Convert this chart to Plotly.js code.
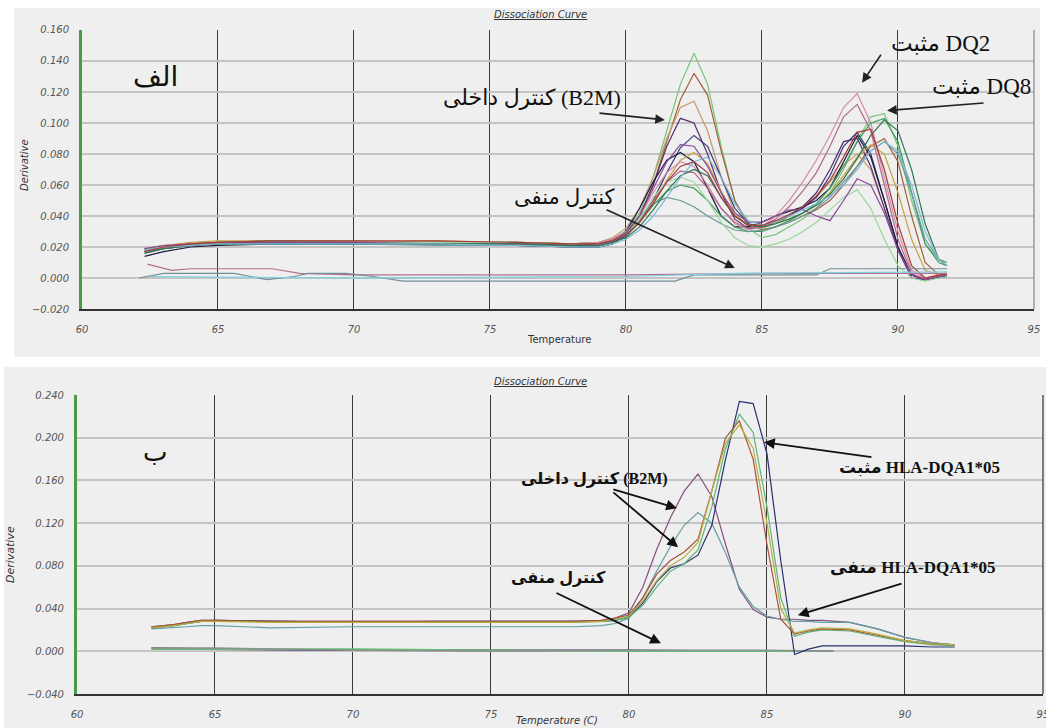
<!DOCTYPE html>
<html>
<head>
<meta charset="utf-8">
<script src="https://cdn.plot.ly/plotly-3.0.1.min.js"></script>
<style>html,body{margin:0;padding:0;background:#fff;}#chart{width:1046px;height:728px;}</style>
</head>
<body>
<div id="chart"></div>
<script>
// ---------- Panel A (الف) : temperature grid and melt-curve derivatives ----------
const tempA = [62.3,63,64,65,67,70,73,76,78,79,79.5,80,80.5,81,81.5,82,82.5,83,83.5,84,84.5,85,85.5,86,86.5,87,87.5,88,88.5,89,89.5,90,90.5,91,91.5,91.8];

const a01 = [0.018,0.020,0.022,0.022,0.023,0.023,0.022,0.022,0.022,0.023,0.025,0.030,0.042,0.065,0.095,0.125,0.145,0.125,0.085,0.050,0.032,0.026,0.028,0.033,0.038,0.045,0.055,0.070,0.088,0.104,0.106,0.085,0.050,0.022,0.012,0.010];
const a02 = [0.017,0.020,0.022,0.023,0.024,0.023,0.023,0.023,0.022,0.023,0.025,0.030,0.040,0.060,0.088,0.115,0.132,0.118,0.082,0.050,0.035,0.031,0.033,0.036,0.040,0.044,0.050,0.060,0.072,0.085,0.090,0.075,0.040,0.010,0.002,0.002];
const a03 = [0.019,0.021,0.022,0.023,0.024,0.023,0.024,0.023,0.022,0.023,0.026,0.032,0.045,0.065,0.090,0.110,0.114,0.095,0.065,0.042,0.033,0.032,0.035,0.040,0.045,0.052,0.062,0.073,0.080,0.070,0.045,0.018,0.002,0.000,0.002,0.003];
const a04 = [0.016,0.019,0.021,0.022,0.022,0.022,0.022,0.021,0.020,0.020,0.022,0.028,0.040,0.060,0.085,0.103,0.100,0.080,0.055,0.038,0.032,0.033,0.036,0.040,0.046,0.055,0.070,0.088,0.090,0.072,0.045,0.018,0.000,-0.001,0.001,0.002];
const a05 = [0.018,0.020,0.021,0.022,0.022,0.023,0.022,0.022,0.021,0.021,0.023,0.027,0.036,0.050,0.068,0.084,0.092,0.085,0.065,0.045,0.035,0.033,0.036,0.040,0.045,0.052,0.066,0.085,0.094,0.080,0.050,0.020,0.002,-0.001,0.001,0.001];
const a06 = [0.014,0.017,0.020,0.021,0.022,0.022,0.022,0.021,0.020,0.020,0.022,0.030,0.045,0.062,0.076,0.081,0.075,0.058,0.040,0.033,0.033,0.036,0.040,0.043,0.046,0.050,0.058,0.075,0.092,0.078,0.050,0.020,0.002,-0.001,0.000,0.001];
const a07 = [0.018,0.021,0.023,0.024,0.024,0.024,0.023,0.023,0.022,0.022,0.024,0.028,0.036,0.048,0.063,0.076,0.081,0.074,0.056,0.040,0.034,0.034,0.036,0.038,0.042,0.047,0.055,0.066,0.078,0.086,0.080,0.055,0.025,0.005,0.002,0.003];
const a08 = [0.019,0.021,0.022,0.023,0.023,0.023,0.023,0.022,0.022,0.023,0.025,0.030,0.040,0.055,0.068,0.075,0.072,0.060,0.045,0.035,0.031,0.033,0.040,0.050,0.062,0.076,0.092,0.110,0.119,0.100,0.065,0.030,0.005,0.000,0.002,0.003];
const a09 = [0.017,0.020,0.022,0.022,0.023,0.023,0.022,0.022,0.021,0.022,0.024,0.028,0.037,0.050,0.062,0.069,0.068,0.058,0.045,0.036,0.032,0.033,0.038,0.046,0.056,0.068,0.085,0.104,0.112,0.095,0.060,0.025,0.003,-0.001,0.001,0.002];
const a10 = [0.018,0.020,0.022,0.023,0.024,0.023,0.023,0.023,0.022,0.022,0.024,0.028,0.036,0.047,0.056,0.060,0.058,0.050,0.040,0.033,0.030,0.030,0.033,0.037,0.042,0.048,0.058,0.072,0.088,0.100,0.103,0.088,0.055,0.022,0.010,0.008];
const a11 = [0.017,0.019,0.021,0.022,0.022,0.022,0.021,0.021,0.020,0.020,0.023,0.030,0.040,0.048,0.052,0.050,0.046,0.040,0.035,0.031,0.030,0.031,0.033,0.036,0.040,0.045,0.052,0.062,0.072,0.082,0.088,0.080,0.055,0.025,0.012,0.010];
const a12 = [0.018,0.020,0.022,0.023,0.023,0.023,0.023,0.023,0.022,0.022,0.024,0.028,0.038,0.052,0.062,0.065,0.062,0.050,0.036,0.026,0.021,0.020,0.022,0.025,0.030,0.036,0.044,0.052,0.057,0.045,0.025,0.008,0.000,-0.002,0.000,0.001];
const a13 = [0.019,0.021,0.022,0.023,0.023,0.023,0.022,0.022,0.021,0.022,0.024,0.029,0.040,0.057,0.075,0.086,0.085,0.072,0.055,0.042,0.036,0.036,0.040,0.044,0.044,0.040,0.037,0.050,0.064,0.060,0.042,0.018,0.002,-0.001,0.001,0.002];
const a14 = [0.016,0.019,0.021,0.022,0.022,0.022,0.022,0.022,0.021,0.021,0.023,0.026,0.033,0.044,0.056,0.066,0.070,0.066,0.052,0.040,0.034,0.033,0.035,0.038,0.042,0.047,0.054,0.064,0.077,0.092,0.102,0.095,0.070,0.035,0.012,0.008];
const a15 = [0.018,0.020,0.021,0.022,0.022,0.022,0.022,0.021,0.020,0.020,0.022,0.025,0.031,0.040,0.052,0.065,0.075,0.078,0.065,0.048,0.037,0.034,0.036,0.040,0.044,0.048,0.053,0.060,0.070,0.082,0.088,0.082,0.060,0.030,0.012,0.008];
const a16 = [0.017,0.020,0.022,0.023,0.024,0.024,0.024,0.023,0.022,0.022,0.024,0.028,0.036,0.048,0.062,0.072,0.075,0.068,0.052,0.040,0.034,0.034,0.037,0.041,0.046,0.053,0.063,0.078,0.094,0.096,0.070,0.035,0.008,0.000,0.002,0.003];
const seriesA = [a01,a02,a03,a04,a05,a06,a07,a08,a09,a10,a11,a12,a13,a14,a15,a16];
const colorsA = ['#7cc47c','#a0603a','#c49a68','#5a2a6a','#34387a','#1c1c40','#c8a040','#d48aa8','#b06a8a','#3c9c5c','#6a9a9a','#98d898','#8a4a9a','#2a7a4a','#80b8d8','#a83a3a'];

// negative controls, panel A
const ncA1x = [62.4,62.8,63.3,64.0,67.0,68.0,70.0,75.0,80.0,85.0,91.8];
const ncA1y = [0.009,0.007,0.005,0.006,0.006,0.003,0.002,0.002,0.002,0.003,0.003];
const ncA2x = [62.1,63.0,65.6,66.8,67.8,68.3,69.7,70.7,71.8,76.0,81.8,82.5,87.0,87.5,91.8];
const ncA2y = [0.000,0.003,0.003,-0.001,0.001,0.003,0.003,0.001,-0.002,-0.002,-0.002,0.002,0.002,0.006,0.006];
const ncA3x = [62.5,70.0,80.0,84.0,91.8];
const ncA3y = [0.001,0.000,0.001,0.003,0.004];
const ncColorsA = ['#b07090','#708f98','#80d0e0'];

// ---------- Panel B (ب) ----------
const tempB = [62.7,63.5,64,64.5,65,67,70,73,76,78,79,79.5,80,80.5,81,81.5,82,82.5,83,83.5,84,84.5,85,85.5,86,86.5,87,88,89,90,91,91.8];
const b1 = [0.023,0.025,0.027,0.029,0.029,0.028,0.028,0.028,0.028,0.028,0.029,0.031,0.036,0.060,0.095,0.125,0.150,0.166,0.145,0.100,0.058,0.039,0.032,0.030,0.030,0.029,0.029,0.027,0.021,0.013,0.008,0.006];
const b2 = [0.021,0.022,0.023,0.024,0.024,0.022,0.023,0.023,0.023,0.023,0.024,0.026,0.031,0.050,0.075,0.098,0.118,0.130,0.120,0.092,0.060,0.042,0.033,0.030,0.028,0.028,0.027,0.027,0.021,0.013,0.008,0.006];
const b3 = [0.022,0.024,0.026,0.028,0.029,0.028,0.027,0.028,0.028,0.028,0.028,0.029,0.032,0.045,0.065,0.078,0.082,0.090,0.118,0.180,0.234,0.232,0.185,0.085,-0.003,0.002,0.005,0.005,0.005,0.005,0.004,0.004];
const b4 = [0.022,0.024,0.026,0.028,0.028,0.028,0.027,0.027,0.027,0.027,0.028,0.029,0.032,0.043,0.060,0.075,0.082,0.095,0.135,0.190,0.222,0.205,0.135,0.050,0.014,0.018,0.020,0.019,0.014,0.009,0.006,0.005];
const b5 = [0.023,0.025,0.027,0.029,0.029,0.028,0.028,0.028,0.028,0.028,0.029,0.031,0.034,0.050,0.072,0.085,0.093,0.105,0.150,0.200,0.216,0.180,0.100,0.030,0.016,0.019,0.021,0.020,0.015,0.010,0.007,0.006];
const b6 = [0.022,0.024,0.026,0.028,0.028,0.027,0.027,0.027,0.027,0.027,0.028,0.030,0.033,0.047,0.066,0.080,0.088,0.102,0.150,0.195,0.212,0.190,0.120,0.040,0.017,0.020,0.022,0.021,0.016,0.010,0.007,0.006];
const seriesB = [b1,b2,b3,b4,b5,b6];
const colorsB = ['#84507e','#62a0a4','#2a3070','#5ab67a','#a8503c','#b4b040'];

const ncBx = [62.7,65,70,75,80,85,87.4];
const ncB1 = [0.003,0.002,0.001,0.001,0.001,0.000,0.000];
const ncB2 = [0.002,0.002,0.002,0.001,0.000,0.000,0.000];
const ncB3 = [0.003,0.003,0.001,0.000,0.001,0.001,0.000];
const ncColorsB = ['#2a2a60','#60c070','#909090'];

// ---------- arrow pointers (tail -> head, data units) ----------
const arrowsA = [
  {tx:78.97, ty:0.1065, hx:81.43, hy:0.102},
  {tx:79.23, ty:0.0445, hx:84.0,  hy:0.0065},
  {tx:89.41, ty:0.145,  hx:88.68, hy:0.126},
  {tx:93.2,  ty:0.113,  hx:89.6,  hy:0.108}
];
const arrowsB = [
  {tx:79.38, ty:0.152, hx:81.74, hy:0.134},
  {tx:79.38, ty:0.150, hx:81.78, hy:0.0974},
  {tx:88.84, ty:0.1817,hx:84.89, hy:0.1958},
  {tx:89.93, ty:0.0637,hx:86.12, hy:0.0337},
  {tx:77.32, ty:0.0553,hx:81.16, hy:0.0075}
];

const traces = [];
seriesA.forEach((s,i)=>traces.push({x:tempA,y:s,xaxis:'x',yaxis:'y',mode:'lines',line:{color:colorsA[i],width:1.2},hoverinfo:'skip'}));
[[ncA1x,ncA1y],[ncA2x,ncA2y],[ncA3x,ncA3y]].forEach((p,i)=>traces.push({x:p[0],y:p[1],xaxis:'x',yaxis:'y',mode:'lines',line:{color:ncColorsA[i],width:1.2}}));
[ncB1,ncB2,ncB3].forEach((s,i)=>traces.push({x:ncBx,y:s,xaxis:'x2',yaxis:'y2',mode:'lines',line:{color:ncColorsB[i],width:1.6}}));
seriesB.forEach((s,i)=>traces.push({x:tempB,y:s,xaxis:'x2',yaxis:'y2',mode:'lines',line:{color:colorsB[i],width:1.2}}));

const tickFont = {family:'DejaVu Sans, sans-serif', size:10, color:'#555', style:'italic'};
function xax(domain, anchor){
  return {domain:domain, anchor:anchor, range:[60,95], tick0:60, dtick:5, showgrid:true, gridcolor:'#3a3a3a', gridwidth:1,
    showline:true, linecolor:'#333', linewidth:2, zeroline:false, ticks:'', tickfont:tickFont, ticklabelstandoff:10,
    ticklabeloverflow:'allow', fixedrange:true};
}
function yax(domain, anchor, range, dtick){
  return {domain:domain, anchor:anchor, range:range, dtick:dtick, tickformat:'.3f', showgrid:true, gridcolor:'#c4c4c4', gridwidth:2,
    showline:true, linecolor:'#4a9a4a', linewidth:3, zeroline:false, ticks:'', tickfont:tickFont, ticklabelstandoff:8, fixedrange:true};
}

const arabic = 'Liberation Serif, DejaVu Sans, serif';
const ann = [];
function txt(x,y,text,size,opts){
  ann.push(Object.assign({xref:'paper',yref:'paper',x:x,y:y,text:text,showarrow:false,xanchor:'center',yanchor:'middle',
    font:{family:arabic,size:size,color:'#111'}},opts||{}));
}
// panel A texts
txt(0.5163,0.9794,'<span style="text-decoration:underline">Dissociation Curve</span>',10,{font:{family:'DejaVu Sans, sans-serif',size:10,color:'#333',style:'italic'}});
txt(0.1491,0.8956,'الف',28);
txt(0.5086,0.8654,'کنترل داخلی (B2M)',22);
txt(0.5392,0.7294,'کنترل منفی',21);
txt(0.8987,0.9396,'مثبت DQ2',23);
txt(0.9388,0.8805,'مثبت DQ8',23);
txt(0.5344,0.533,'Temperature',10,{font:{family:'DejaVu Sans, sans-serif',size:10,color:'#333'}});
txt(0.0239,0.7734,'Derivative',10,{textangle:-90,font:{family:'DejaVu Sans, sans-serif',size:10,color:'#333',style:'italic'}});
// panel B texts
txt(0.5163,0.4766,'<span style="text-decoration:underline">Dissociation Curve</span>',10,{font:{family:'DejaVu Sans, sans-serif',size:10,color:'#333',style:'italic'}});
txt(0.1482,0.3791,'ب',26);
txt(0.5679,0.342,'<b>کنترل داخلی (B2M)</b>',16);
txt(0.8795,0.3585,'<b>مثبت HLA-DQA1*05</b>',17);
txt(0.8728,0.2198,'<b>منفی HLA-DQA1*05</b>',17);
txt(0.5335,0.206,'<b>کنترل منفی</b>',16);
txt(0.5325,0.0105,'Temperature (C)',10,{font:{family:'DejaVu Sans, sans-serif',size:10,color:'#333',style:'italic'}});
txt(0.0096,0.2376,'Derivative',11,{textangle:-90,font:{family:'DejaVu Sans, sans-serif',size:11,color:'#333',style:'italic'}});

arrowsA.forEach(a=>ann.push({xref:'x',yref:'y',axref:'x',ayref:'y',x:a.hx,y:a.hy,ax:a.tx,ay:a.ty,text:'',showarrow:true,arrowhead:2,arrowsize:1.2,arrowwidth:1.6,arrowcolor:'#222'}));
arrowsB.forEach(a=>ann.push({xref:'x2',yref:'y2',axref:'x2',ayref:'y2',x:a.hx,y:a.hy,ax:a.tx,ay:a.ty,text:'',showarrow:true,arrowhead:2,arrowsize:1.2,arrowwidth:1.8,arrowcolor:'#111'}));

const layout = {
  width:1046, height:728, margin:{l:0,r:0,t:0,b:0}, showlegend:false,
  paper_bgcolor:'#ffffff', plot_bgcolor:'#ffffff',
  xaxis: xax([0.0784,0.9885],'y'),
  yaxis: yax([0.5755,0.9588],'x',[-0.02,0.16],0.02),
  xaxis2: xax([0.0736,0.9971],'y2'),
  yaxis2: yax([0.0467,0.4574],'x2',[-0.04,0.24],0.04),
  shapes:[
    {type:'rect',xref:'paper',yref:'paper',x0:0.0134,x1:0.9943,y0:0.5096,y1:0.989,fillcolor:'#efefef',line:{width:0},layer:'below'},
    {type:'rect',xref:'paper',yref:'paper',x0:0.0038,x1:1,y0:0,y1:0.4959,fillcolor:'#efefef',line:{width:0},layer:'below'},
    {type:'line',xref:'x domain',yref:'y domain',x0:1,x1:1,y0:0,y1:1,line:{color:'#9a9a9a',width:1.5}},
    {type:'line',xref:'x2 domain',yref:'y2 domain',x0:1,x1:1,y0:0,y1:1,line:{color:'#555',width:1.5}}
  ],
  annotations: ann
};
Plotly.newPlot('chart', traces, layout, {displayModeBar:false, staticPlot:true});
</script>
</body>
</html>
